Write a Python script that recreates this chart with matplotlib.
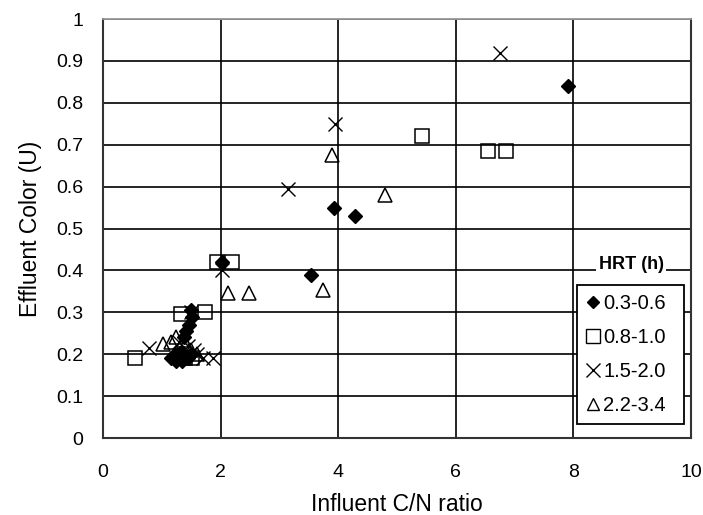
import matplotlib
matplotlib.use("Agg")
import matplotlib.pyplot as plt
from matplotlib.lines import Line2D

plt.rcParams["font.family"] = ["Liberation Sans", "DejaVu Sans"]

# HRT 0.3-0.6 h (filled diamonds)
d_x = [7.9, 3.93, 4.28, 3.53, 2.02, 1.49, 1.51, 1.46, 1.42, 1.38,
       1.15, 1.2, 1.25, 1.3, 1.35, 1.4, 1.45, 1.22, 1.32, 1.5]
d_y = [0.84, 0.55, 0.53, 0.39, 0.42, 0.305, 0.29, 0.27, 0.255, 0.24,
       0.19, 0.19, 0.185, 0.19, 0.185, 0.19, 0.19, 0.20, 0.205, 0.20]

# HRT 0.8-1.0 h (open squares)
s_x = [5.43, 6.55, 6.86, 1.94, 2.19, 1.32, 1.74, 0.54, 1.4, 1.52]
s_y = [0.72, 0.685, 0.685, 0.42, 0.42, 0.295, 0.30, 0.19, 0.19, 0.19]

# HRT 1.5-2.0 h (crosses)
x_x = [6.75, 3.95, 3.15, 2.02, 0.78, 1.87, 1.50, 1.45, 1.6, 1.7, 1.3, 1.55]
x_y = [0.92, 0.75, 0.595, 0.40, 0.215, 0.19, 0.30, 0.22, 0.20, 0.19, 0.23, 0.21]

# HRT 2.2-3.4 h (open triangles)
t_x = [3.9, 4.8, 3.74, 2.13, 2.48, 1.02, 1.15, 1.25, 1.38, 1.5, 1.6]
t_y = [0.675, 0.58, 0.353, 0.345, 0.347, 0.225, 0.23, 0.24, 0.235, 0.21, 0.20]

labels = ["0.3-0.6", "0.8-1.0", "1.5-2.0", "2.2-3.4"]
x_ticks = [0, 2, 4, 6, 8, 10]
y_ticks = [0, 0.1, 0.2, 0.3, 0.4, 0.5, 0.6, 0.7, 0.8, 0.9, 1.0]
y_tick_labels = ["0", "0.1", "0.2", "0.3", "0.4", "0.5", "0.6", "0.7", "0.8", "0.9", "1"]

fig = plt.figure(figsize=(7.03, 5.15), dpi=100)
ax = fig.add_axes([0.1465, 0.1495, 0.8365, 0.8135])

ax.set_xlim(0, 10)
ax.set_ylim(0, 1)
ax.set_xticks(x_ticks)
ax.set_xticklabels([str(t) for t in x_ticks])
ax.set_yticks(y_ticks)
ax.set_yticklabels(y_tick_labels)
ax.tick_params(length=0, labelsize=14)
ax.tick_params(axis="y", pad=14)
ax.tick_params(axis="x", pad=19)
ax.grid(True, color="black", linewidth=1.2)
ax.set_axisbelow(True)
for side in ["left", "bottom", "right"]:
    ax.spines[side].set_color("#333333")
    ax.spines[side].set_linewidth(1.5)
ax.spines["top"].set_color("#999999")
ax.spines["top"].set_linewidth(1.3)

ax.plot(d_x, d_y, linestyle="none", marker="D", markersize=7,
        color="black", zorder=3)
ax.plot(s_x, s_y, linestyle="none", marker="s", markersize=10,
        markerfacecolor="none", markeredgecolor="black", markeredgewidth=1.1, zorder=3)
ax.plot(x_x, x_y, linestyle="none", marker="x", markersize=9.5,
        color="black", markeredgewidth=1.0, zorder=3)
ax.plot(t_x, t_y, linestyle="none", marker="^", markersize=10,
        markerfacecolor="none", markeredgecolor="black", markeredgewidth=1.1, zorder=3)

ax.set_xlabel("Influent C/N ratio", fontsize=16.5, labelpad=8)
ax.set_ylabel("Effluent Color (U)", fontsize=16.5, labelpad=10)

handles = [
    Line2D([], [], linestyle="none", marker="D", markersize=6.5, color="black"),
    Line2D([], [], linestyle="none", marker="s", markersize=10,
           markerfacecolor="none", markeredgecolor="black"),
    Line2D([], [], linestyle="none", marker="x", markersize=10, color="black"),
    Line2D([], [], linestyle="none", marker="^", markersize=9,
           markerfacecolor="none", markeredgecolor="black"),
]
leg = ax.legend(handles, labels, loc="lower left", bbox_to_anchor=(0.806, 0.033, 0.182, 0.332),
                mode="expand", fontsize=14.5, frameon=True, fancybox=False, framealpha=1,
                edgecolor="black", handlelength=0.7, handletextpad=0.15,
                borderpad=0.45, labelspacing=0.75, borderaxespad=0)
leg.get_frame().set_linewidth(1.3)

ax.text(0.898, 0.414, "HRT (h)", transform=ax.transAxes, ha="center", va="center",
        fontsize=13, fontweight="bold",
        bbox=dict(facecolor="white", edgecolor="none", pad=1.5))

fig.savefig("out.png", dpi=100)
